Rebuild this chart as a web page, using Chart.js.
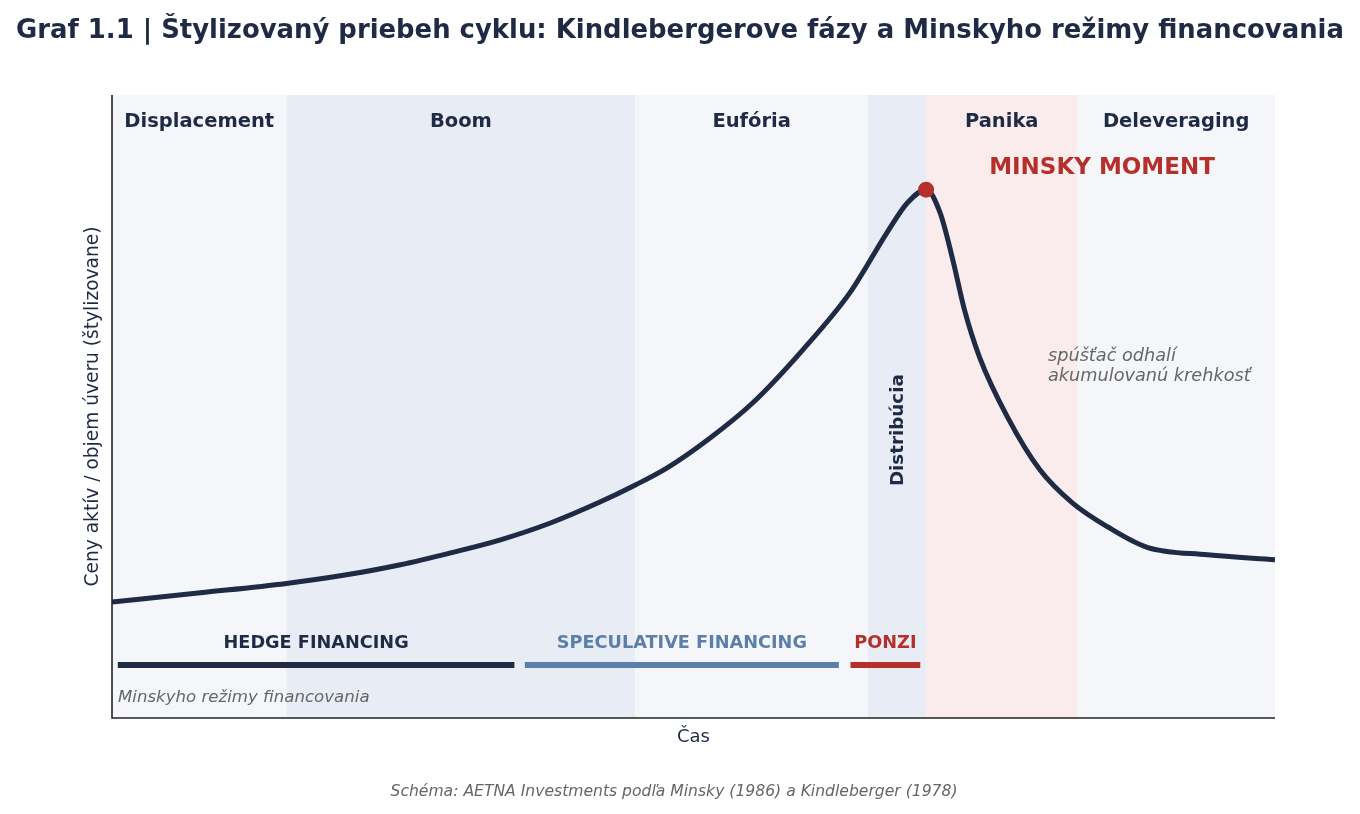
<!DOCTYPE html>
<html>
<head>
<meta charset="utf-8">
<script src="https://cdn.jsdelivr.net/npm/chart.js@4.4.1/dist/chart.umd.min.js"></script>
<style>
  html, body { margin: 0; padding: 0; background: #ffffff; }
  #wrap { width: 1360px; height: 814px; position: relative; }
</style>
</head>
<body>
<div id="wrap"><canvas id="c" width="1360" height="814"></canvas></div>
<script>
// ---- data ----
const curveX = [0, 7.6, 15, 19.9, 24.8, 29.1, 33.4, 37.7, 42.0, 45.0, 47.7, 51.4, 55.1, 59.4, 63.5, 66.6, 68.4, 70, 71.2, 72.3, 73.3, 74.6, 77.0, 79.8, 82.6, 85.6, 89.0, 94.2, 100];
const curveY = [18.6, 20.1, 21.6, 22.9, 24.6, 26.5, 28.6, 31.3, 34.7, 37.4, 40.1, 44.9, 50.6, 59.1, 68.4, 77.8, 82.7, 84.8, 81.1, 73.5, 65.5, 57.9, 48.3, 39.8, 34.5, 30.7, 27.4, 26.2, 25.4];

const phaseNames = ["Displacement", "Boom", "Eufória", "Distribúcia", "Panika", "Deleveraging"];
const phaseStart = [0, 15, 45, 65, 70, 83];
const phaseEnd   = [15, 45, 65, 70, 83, 100];

const regimeNames = ["HEDGE FINANCING", "SPECULATIVE FINANCING", "PONZI"];
const regimeStart = [0.5, 35.5, 63.5];
const regimeEnd   = [34.6, 62.5, 69.5];
const regimeLevel = 8.5;

const peakX = 70, peakY = 84.8;

// ---- styles ----
const NAVY = "#1f2a44";
const RED = "#b5302a";
const STEEL = "#5b7fa8";
const GREY = "#666666";
const FONT = "'DejaVu Sans'";
const phaseFill = ["#f4f6fa", "#e8edf5", "#f4f6fa", "#e8edf5", "#faecec", "#f4f6fa"];
const regimeColor = [NAVY, STEEL, RED];

const curveData = curveX.map((x, i) => ({ x: x, y: curveY[i] }));

const regimeDatasets = regimeNames.map((n, i) => ({
  label: n,
  data: [{ x: regimeStart[i], y: regimeLevel }, { x: regimeEnd[i], y: regimeLevel }],
  borderColor: regimeColor[i],
  borderWidth: 6,
  pointRadius: 0,
  tension: 0,
  borderCapStyle: "butt"
}));

const bandsPlugin = {
  id: "bands",
  beforeDatasetsDraw(chart) {
    const { ctx, chartArea, scales } = chart;
    const xs = scales.x, ys = scales.y;
    ctx.save();
    phaseNames.forEach((name, i) => {
      const x0 = xs.getPixelForValue(phaseStart[i]);
      const x1 = xs.getPixelForValue(phaseEnd[i]);
      ctx.fillStyle = phaseFill[i];
      ctx.fillRect(x0, chartArea.top, x1 - x0, chartArea.bottom - chartArea.top);
    });
    ctx.fillStyle = NAVY;
    ctx.textAlign = "center";
    ctx.textBaseline = "middle";
    phaseNames.forEach((name, i) => {
      const cx = (xs.getPixelForValue(phaseStart[i]) + xs.getPixelForValue(phaseEnd[i])) / 2;
      if (name === "Distribúcia") {
        ctx.save();
        ctx.translate(cx + 1, ys.getPixelForValue(46.2));
        ctx.rotate(-Math.PI / 2);
        ctx.font = "bold 18.3px " + FONT;
        ctx.fillText(name, 0, 0);
        ctx.restore();
      } else {
        ctx.font = "bold 19.5px " + FONT;
        ctx.fillText(name, cx, chartArea.top + 27);
      }
    });
    ctx.restore();
  },
  afterDraw(chart) {
    const { ctx, chartArea, scales } = chart;
    const xs = scales.x, ys = scales.y;
    ctx.save();
    ctx.strokeStyle = "#222222";
    ctx.lineWidth = 1.6;
    ctx.beginPath();
    ctx.moveTo(chartArea.left, chartArea.top);
    ctx.lineTo(chartArea.left, chartArea.bottom);
    ctx.lineTo(chartArea.right, chartArea.bottom);
    ctx.stroke();

    ctx.textAlign = "center";
    ctx.textBaseline = "middle";
    ctx.font = "bold 17.7px " + FONT;
    regimeNames.forEach((n, i) => {
      const cx = (xs.getPixelForValue(regimeStart[i]) + xs.getPixelForValue(regimeEnd[i])) / 2;
      ctx.fillStyle = regimeColor[i];
      ctx.fillText(n, cx, ys.getPixelForValue(regimeLevel) - 22);
    });
    ctx.textAlign = "left";
    ctx.fillStyle = GREY;
    ctx.font = "italic 16.6px " + FONT;
    ctx.fillText("Minskyho režimy financovania", chartArea.left + 6, ys.getPixelForValue(regimeLevel) + 33);

    ctx.textAlign = "center";
    ctx.fillStyle = RED;
    ctx.font = "bold 23px " + FONT;
    ctx.fillText("MINSKY MOMENT", 1102, 168);

    ctx.textAlign = "left";
    ctx.fillStyle = GREY;
    ctx.font = "italic 17.7px " + FONT;
    ctx.fillText("spúšťač odhalí", 1048, 356);
    ctx.fillText("akumulovanú krehkosť", 1048, 376);

    ctx.fillStyle = NAVY;
    ctx.font = "18px " + FONT;
    ctx.textAlign = "center";
    ctx.fillText("Čas", (chartArea.left + chartArea.right) / 2, 737);
    ctx.save();
    ctx.translate(93, (chartArea.top + chartArea.bottom) / 2);
    ctx.rotate(-Math.PI / 2);
    ctx.font = "18.6px " + FONT;
    ctx.fillText("Ceny aktív / objem úveru (štylizovane)", 0, 0);
    ctx.restore();

    ctx.fillStyle = NAVY;
    ctx.font = "bold 25.9px " + FONT;
    ctx.fillText("Graf 1.1 | Štylizovaný priebeh cyklu: Kindlebergerove fázy a Minskyho režimy financovania", 680, 31);

    ctx.fillStyle = GREY;
    ctx.font = "italic 15.6px " + FONT;
    ctx.fillText("Schéma: AETNA Investments podľa Minsky (1986) a Kindleberger (1978)", 674, 792);
    ctx.restore();
  }
};

new Chart(document.getElementById("c"), {
  type: "line",
  data: {
    datasets: [
      {
        label: "peak",
        data: [{ x: peakX, y: peakY }],
        showLine: false,
        pointRadius: 8,
        pointBackgroundColor: RED,
        pointBorderColor: RED,
        pointBorderWidth: 0
      },
      {
        label: "cycle",
        data: curveData,
        borderColor: NAVY,
        borderWidth: 5,
        pointRadius: 0,
        cubicInterpolationMode: "monotone",
        fill: false
      },
      ...regimeDatasets
    ]
  },
  options: {
    responsive: false,
    animation: false,
    devicePixelRatio: 1,
    layout: { padding: { left: 112, right: 85, top: 95, bottom: 96 } },
    scales: {
      x: { type: "linear", min: 0, max: 100, display: false },
      y: { type: "linear", min: 0, max: 100, display: false }
    },
    plugins: {
      legend: { display: false },
      tooltip: { enabled: false },
      title: { display: false }
    }
  },
  plugins: [bandsPlugin]
});
</script>
</body>
</html>
